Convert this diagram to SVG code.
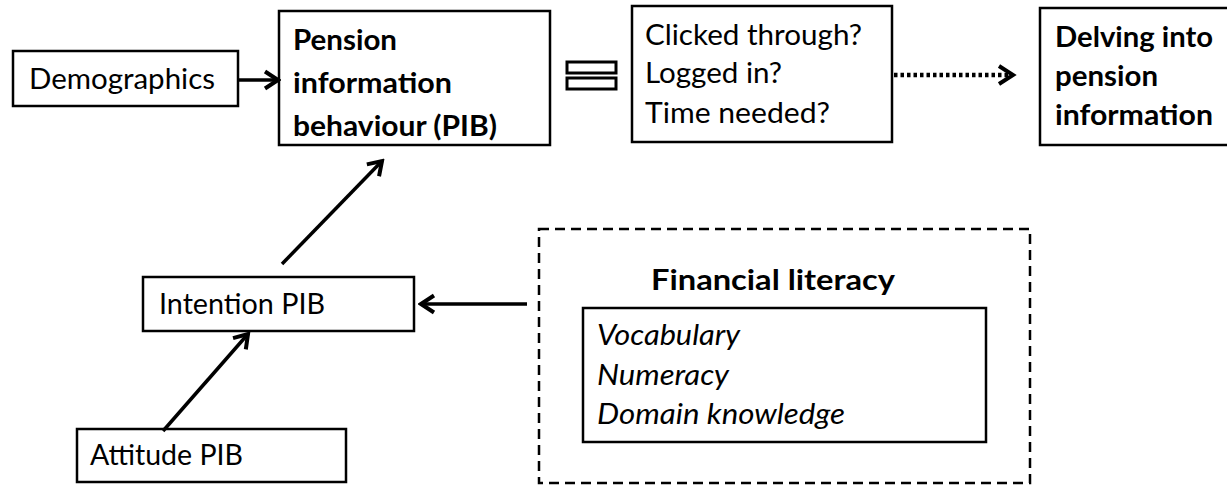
<svg xmlns="http://www.w3.org/2000/svg" width="1227" height="485" viewBox="0 0 1227 485">
  <style>
    .box { fill: #fff; stroke: #000; stroke-width: 2.5; }
    .dash { fill: none; stroke: #000; stroke-width: 2.5; stroke-dasharray: 10 6; }
    .t { font-family: Lato, "Liberation Sans", sans-serif; font-size: 29px; fill: #000; }
    .b { font-weight: bold; }
    .i { font-style: italic; }
    .conn { stroke: #000; stroke-width: 3.5; fill: none; }
    .dot { stroke: #000; stroke-width: 4.5; stroke-dasharray: 3.5 3; fill: none; }
  </style>
  <defs>
    <marker id="arr" viewBox="0 0 20 22" refX="17" refY="11" markerWidth="20" markerHeight="22" markerUnits="userSpaceOnUse" orient="auto">
      <path d="M4,2.5 L17,11 L4,19.5" fill="none" stroke="#000" stroke-width="4"/>
    </marker>
  </defs>
  <rect width="1227" height="485" fill="#fff"/>

  <g id="demographics">
    <rect class="box" x="13" y="51" width="225" height="55"/>
    <text class="t" x="29" y="89" textLength="186" lengthAdjust="spacingAndGlyphs">Demographics</text>
  </g>

  <g id="pib">
    <rect class="box" x="279" y="11" width="271" height="134"/>
    <text class="t b" x="293" y="50" textLength="104" lengthAdjust="spacingAndGlyphs">Pension</text>
    <text class="t b" x="293" y="93" textLength="159" lengthAdjust="spacingAndGlyphs">information</text>
    <text class="t b" x="293" y="136" textLength="204" lengthAdjust="spacingAndGlyphs">behaviour (PIB)</text>
  </g>

  <g id="equals">
    <rect x="567" y="62" width="49" height="11" fill="#fff" stroke="#000" stroke-width="3"/>
    <rect x="567" y="78" width="49" height="11" fill="#fff" stroke="#000" stroke-width="3"/>
  </g>

  <g id="measures">
    <rect class="box" x="632" y="6" width="260" height="136"/>
    <text class="t" x="645" y="45" textLength="217" lengthAdjust="spacingAndGlyphs">Clicked through?</text>
    <text class="t" x="645" y="83" textLength="137" lengthAdjust="spacingAndGlyphs">Logged in?</text>
    <text class="t" x="645" y="123" textLength="185" lengthAdjust="spacingAndGlyphs">Time needed?</text>
  </g>

  <g id="delving">
    <rect class="box" x="1040" y="8" width="200" height="137"/>
    <text class="t b" x="1055" y="47" textLength="158" lengthAdjust="spacingAndGlyphs">Delving into</text>
    <text class="t b" x="1055" y="86" textLength="103" lengthAdjust="spacingAndGlyphs">pension</text>
    <text class="t b" x="1055" y="125" textLength="158" lengthAdjust="spacingAndGlyphs">information</text>
  </g>

  <g id="intention">
    <rect class="box" x="143" y="277" width="271" height="54"/>
    <text class="t" x="159" y="314" textLength="166" lengthAdjust="spacingAndGlyphs">Intention PIB</text>
  </g>

  <g id="attitude">
    <rect class="box" x="77" y="429" width="269" height="53"/>
    <text class="t" x="90" y="465" textLength="153" lengthAdjust="spacingAndGlyphs">Attitude PIB</text>
  </g>

  <g id="financial-literacy">
    <rect class="dash" x="539" y="229" width="491" height="254"/>
    <text class="t b" x="651" y="290" textLength="244" lengthAdjust="spacingAndGlyphs">Financial literacy</text>
    <rect class="box" x="583" y="308" width="403" height="134"/>
    <text class="t i" x="597" y="345" textLength="143" lengthAdjust="spacingAndGlyphs">Vocabulary</text>
    <text class="t i" x="597" y="385" textLength="132" lengthAdjust="spacingAndGlyphs">Numeracy</text>
    <text class="t i" x="597" y="424" textLength="248" lengthAdjust="spacingAndGlyphs">Domain knowledge</text>
  </g>

  <g id="connectors">
    <line class="conn" x1="238" y1="80" x2="278" y2="80" marker-end="url(#arr)"/>
    <line class="dot" x1="894" y1="75" x2="1010" y2="75"/>
    <path d="M999,66 L1013,75 L999,84" fill="none" stroke="#000" stroke-width="4"/>
    <line class="conn" x1="282" y1="264" x2="382" y2="161" marker-end="url(#arr)"/>
    <line class="conn" x1="163" y1="431" x2="248" y2="334" marker-end="url(#arr)"/>
    <line class="conn" x1="527" y1="304" x2="421" y2="304" marker-end="url(#arr)"/>
  </g>
</svg>
